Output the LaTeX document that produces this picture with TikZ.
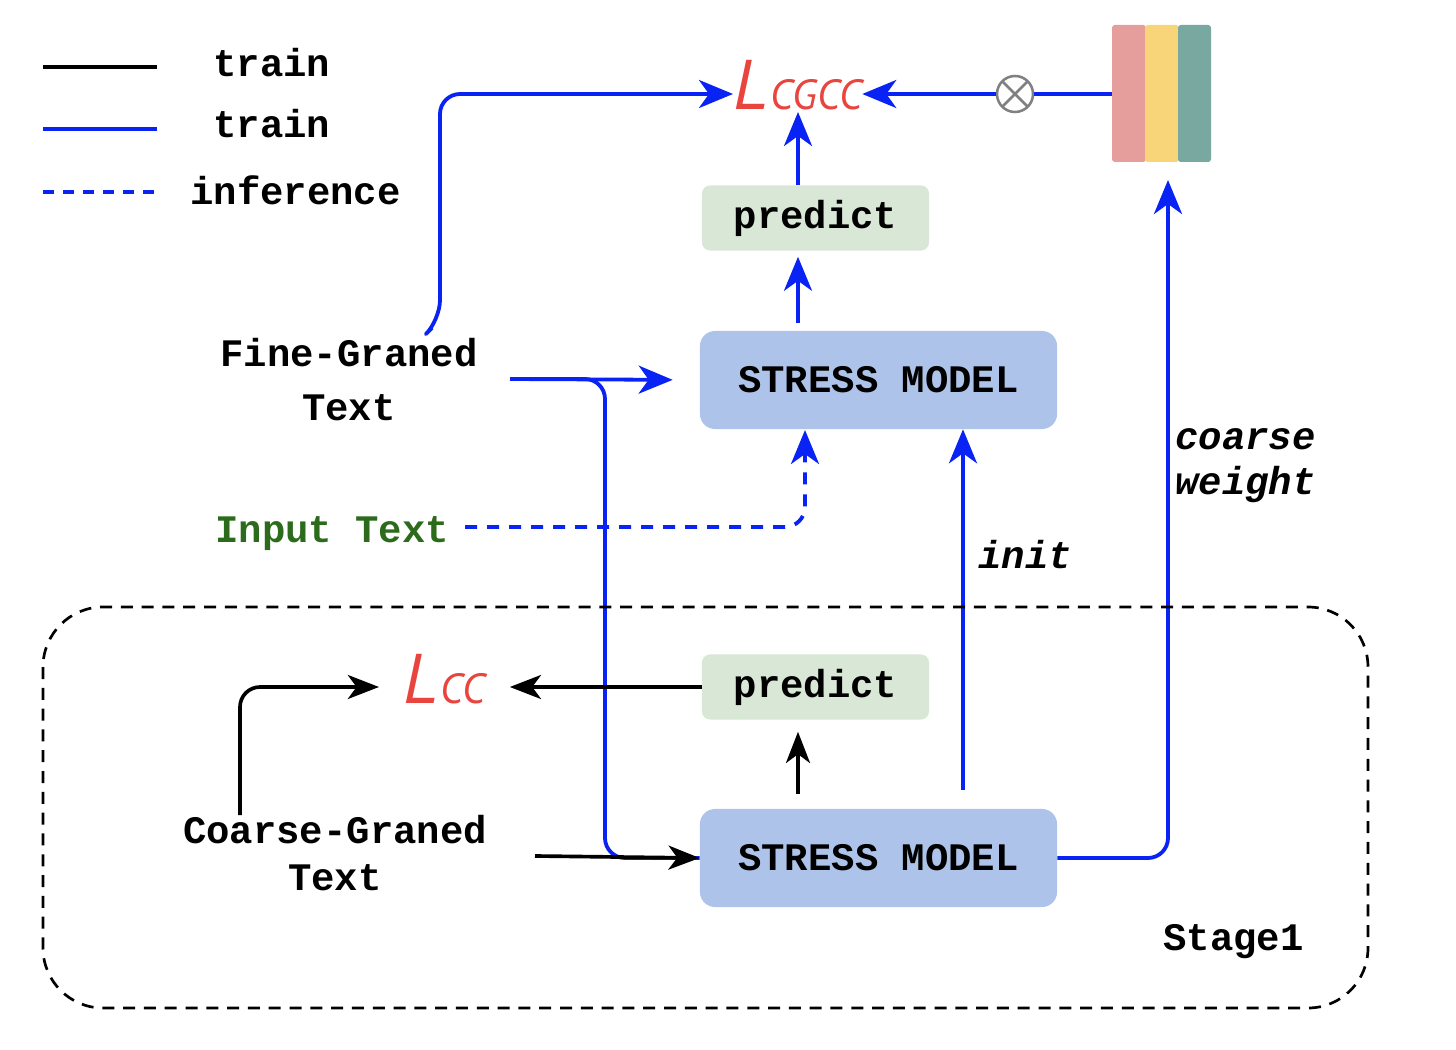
\documentclass[tikz,border=0pt]{standalone}
\usepackage{fontspec}
\setmonofont{Liberation Mono}
\newfontfamily\lossfont{PT Sans}
\usetikzlibrary{arrows.meta,positioning}
\definecolor{flowblue}{HTML}{0A23F5}
\definecolor{modelblue}{HTML}{ADC3E9}
\definecolor{predgreen}{HTML}{D9E7D6}
\definecolor{lossred}{HTML}{E9443E}
\definecolor{inputgreen}{HTML}{2C6B1B}
\definecolor{barpink}{HTML}{E59E9B}
\definecolor{baryellow}{HTML}{F9D57A}
\definecolor{barteal}{HTML}{78A8A0}
\newcommand{\txtfont}{\ttfamily\bfseries\fontsize{27.7}{33}\selectfont}
\newcommand{\lossL}[1]{{\lossfont\itshape\color{lossred}\fontsize{50}{50}\selectfont L\kern2pt\fontsize{30}{30}\selectfont#1}}
\tikzset{
  model/.style={fill=modelblue, rounded corners=0.375cm, minimum width=8.925cm, minimum height=2.45cm, inner sep=0pt},
  pred/.style={fill=predgreen, rounded corners=0.2cm, minimum width=5.675cm, minimum height=1.625cm, inner sep=0pt},
  txt/.style={inner sep=0pt, font=\txtfont},
  bline/.style={flowblue, line width=2.7pt},
  kline/.style={black, line width=2.6pt},
  barrow/.style={bline, -{Stealth[length=0.85cm, width=0.7cm, inset=0.25cm]}},
  karrow/.style={kline, -{Stealth[length=0.78cm, width=0.6cm, inset=0.22cm]}},
  idash/.style={dash pattern=on 0.3cm off 0.25cm}
}
\begin{document}
\begin{tikzpicture}[x=0.025cm, y=-0.025cm, line join=round]
\useasboundingbox (0,0) rectangle (1456,1050);
% legend
\node[txt, anchor=base west] (lgtrainA) at (213,77) {train};
\node[txt, anchor=base west] (lgtrainB) at (213,138) {train};
\node[txt, anchor=base west] (lginfer) at (190,205) {inference};
\draw[kline] (43,67) -- (157,67);
\draw[bline] (43,129) -- (157,129);
\draw[bline, dash pattern=on 0.275cm off 0.225cm] (43,192) -- (157,192);
% boxes
\node[model, font=\txtfont] (model1) at (878.5,380) {STRESS MODEL};
\node[pred, font=\txtfont] (pred1) at (815.5,218) {predict};
\node[pred, font=\txtfont] (pred2) at (815.5,687) {predict};
\node[model, font=\txtfont] (model2) at (878.5,858) {STRESS MODEL};
% losses
\node[inner sep=0pt, anchor=base west] (lcgcc) at (733,110) {\lossL{CGCC}};
\node[inner sep=0pt, anchor=base west] (lcc) at (403,703) {\lossL{CC}};
% weight bars
\node[inner sep=0pt, minimum width=2.475cm, minimum height=3.425cm] (bars) at (1161.5,93.5) {};
\fill[barpink, rounded corners=2pt] (1112,25) rectangle (1146,162);
\fill[baryellow, rounded corners=2pt] (1145,25) rectangle (1179,162);
\fill[barteal, rounded corners=2pt] (1178,25) rectangle (1211,162);
\node[draw=gray, line width=1.8pt, circle, minimum size=0.9cm, inner sep=0pt,
  path picture={\draw[gray, line width=1.8pt] (path picture bounding box.north west) -- (path picture bounding box.south east)
  (path picture bounding box.north east) -- (path picture bounding box.south west);}] (ot) at (1015,94) {};
% texts
\node[txt, align=center, font=\ttfamily\bfseries\fontsize{27.7}{38.3}\selectfont] (fine) at (349,380) {Fine-Graned\\Text};
\node[txt, text=inputgreen, anchor=base west] (input) at (215,542) {Input Text};
\node[txt, align=center, font=\ttfamily\bfseries\fontsize{27.7}{33.3}\selectfont] (coarse) at (335,853) {Coarse-Graned\\Text};
\node[txt, align=left, anchor=west, font=\ttfamily\bfseries\itshape\fontsize{27.7}{32}\selectfont] (cw) at (1175,466) {coarse\\weight};
\node[txt, anchor=base west, font=\txtfont\itshape] (init) at (978,568) {init};
\node[txt, anchor=base west] (stage) at (1163,950) {Stage1};
% free ends
\coordinate (fineTop) at (432,328);
\coordinate (fineOut) at (510,379);
\coordinate (split) at (605,379);
\coordinate (coarseTop) at (240,815);
\coordinate (coarseOut) at (535,856);
\coordinate (initFoot) at (963,790);
\coordinate (inStart) at (465,527);
\coordinate (inTip) at (805,430);
\coordinate (cwTip) at (1168,180);
\coordinate (lossFoot) at (798,112);
% blue: train
\draw[barrow, rounded corners=0.5cm] (fineTop) -- ++(8,-8) |- (lcgcc.west |- ot);
\draw[bline] (bars.west |- ot) -- (ot.east);
\draw[barrow] (ot.west) -- (lcgcc.east |- ot);
\draw[barrow] (pred1.north -| lossFoot) -- (lossFoot);
\draw[barrow, shorten <=0.2cm, shorten >=0.15cm] (model1.north -| lossFoot) -- (pred1.south -| lossFoot);
\draw[bline, rounded corners=0.5cm] (fineOut) -- (split) |- (model2.west);
\draw[barrow, shorten >=0.675cm] (fineOut) -- (model1.west);
\draw[barrow] (initFoot) -- (initFoot |- model1.south);
\draw[barrow, rounded corners=0.5cm] (model2.east) -| (cwTip);
% blue: inference
\draw[barrow, idash, rounded corners=0.5cm] (inStart) -| (inTip);
% black: train
\draw[karrow, shorten >=0.6cm] (pred2.west) -- (lcc.east |- pred2.west);
\draw[karrow, rounded corners=0.5cm, shorten >=0.6cm] (coarseTop) |- (lcc.west |- pred2.west);
\draw[karrow, shorten <=0.375cm, shorten >=0.3cm] (model2.north -| lossFoot) -- (pred2.south -| lossFoot);
\draw[karrow] (coarseOut) -- (model2.west);
% stage 1
\draw[black, line width=1.9pt, dash pattern=on 0.3cm off 0.22cm, rounded corners=1.5cm] (43,607) rectangle (1368,1008);
\end{tikzpicture}
\end{document}
